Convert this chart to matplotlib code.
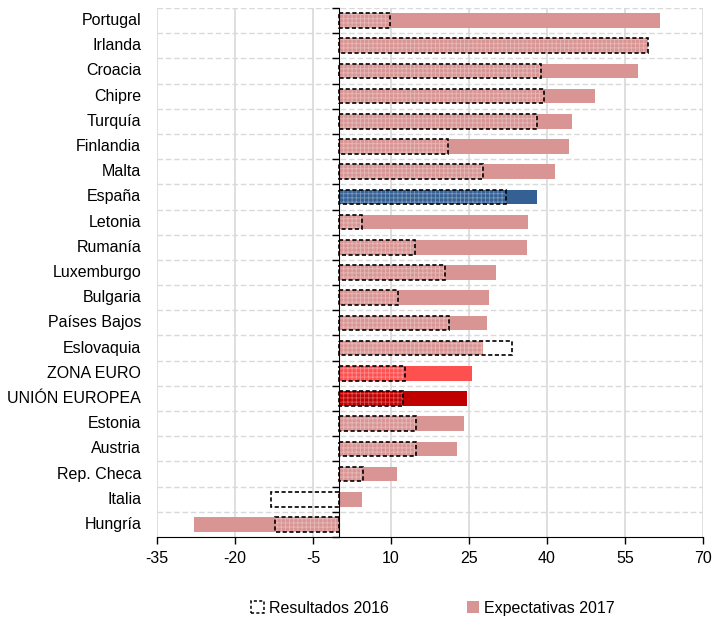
import matplotlib
matplotlib.use("Agg")
import matplotlib.pyplot as plt
import matplotlib.transforms as mtransforms
from matplotlib.patches import Patch
from matplotlib import font_manager
import numpy as np

# data
paises = ["Portugal", "Irlanda", "Croacia", "Chipre", "Turquía", "Finlandia",
          "Malta", "España", "Letonia", "Rumanía", "Luxemburgo", "Bulgaria",
          "Países Bajos", "Eslovaquia", "ZONA EURO", "UNIÓN EUROPEA", "Estonia",
          "Austria", "Rep. Checa", "Italia", "Hungría"]
resultados_2016 = [9.9, 59.4, 38.8, 39.5, 38.1, 20.9, 27.6, 32.1, 4.4, 14.6,
                   20.3, 11.3, 21.2, 33.2, 12.7, 12.3, 14.8, 14.9, 4.6, -13.1, -12.4]
expectativas_2017 = [61.7, 59.4, 57.5, 49.3, 44.9, 44.2, 41.6, 38.1, 36.3, 36.1,
                     30.2, 28.8, 28.5, 27.7, 25.5, 24.6, 24.0, 22.6, 11.1, 4.4, -27.9]
x_ticks = [-35, -20, -5, 10, 25, 40, 55, 70]

PINK = "#D99594"
special_colors = {"España": "#356094", "ZONA EURO": "#FF5050", "UNIÓN EUROPEA": "#C00000"}

# font: narrow sans if available
names = {f.name for f in font_manager.fontManager.ttflist}
if "Liberation Sans Narrow" in names:
    FONT, FS = "Liberation Sans Narrow", 13
else:
    FONT, FS = "Liberation Sans", 11.5
plt.rcParams["font.family"] = [FONT, "DejaVu Sans"]
plt.rcParams["hatch.linewidth"] = 0.6

fig = plt.figure(figsize=(7.12, 6.2), dpi=100)
ax = fig.add_axes([157 / 712, 1 - 537 / 620, 546 / 712, 529 / 620])

n = len(paises)
y = np.arange(n)
h = 0.58
colors = [special_colors.get(p, PINK) for p in paises]

# gridlines
for xv in x_ticks:
    ax.axvline(xv, color="#D9D9D9", lw=1.2, zorder=0)
for b in np.arange(n) - 0.5:
    ax.axhline(b, color="#D9D9D9", lw=1.0, ls=(0, (4, 2)), zorder=0)

# expectativas 2017 (solid)
ax.barh(y, expectativas_2017, height=h, color=colors, edgecolor="none", zorder=2)
# resultados 2016: hatch overlay + dashed outline
ax.barh(y, resultados_2016, height=h, facecolor="none",
        edgecolor=(1, 1, 1, 0.35), linewidth=0, hatch="++++", zorder=3)
ax.barh(y, resultados_2016, height=h, facecolor="none", edgecolor="black",
        linewidth=1.2, linestyle=(0, (2.5, 1.5)), zorder=4)

ax.set_xlim(-35, 70)
ax.set_ylim(n - 0.5, -0.5)
ax.set_xticks(x_ticks)
ax.set_xticklabels([str(v) for v in x_ticks], fontsize=FS)
ax.tick_params(axis="x", length=5, width=1, pad=5, direction="out")

# y axis at zero, ticks at category boundaries
ax.spines["left"].set_position(("data", 0))
ax.spines["left"].set_zorder(5)
ax.spines["top"].set_visible(False)
ax.spines["right"].set_visible(False)
ax.set_yticks(np.arange(n + 1) - 0.5)
ax.set_yticklabels([])
ax.tick_params(axis="y", length=5, width=1, direction="out")

trans = mtransforms.blended_transform_factory(ax.transAxes, ax.transData)
for yi, p in zip(y, paises):
    ax.text(-0.029, yi, p, transform=trans, ha="right", va="center", fontsize=FS)

handles = [Patch(facecolor="white", edgecolor="black", linestyle=(0, (2, 1.5)), linewidth=1.1,
                 label="Resultados 2016"),
           Patch(facecolor=PINK, edgecolor="none", label="Expectativas 2017")]
fig.legend(handles=handles, loc="center", bbox_to_anchor=(0.608, 0.019), ncol=2,
           frameon=False, fontsize=FS, handlelength=0.8, handleheight=0.8,
           handletextpad=0.3, columnspacing=4.9)

fig.savefig("out.png", dpi=100)
